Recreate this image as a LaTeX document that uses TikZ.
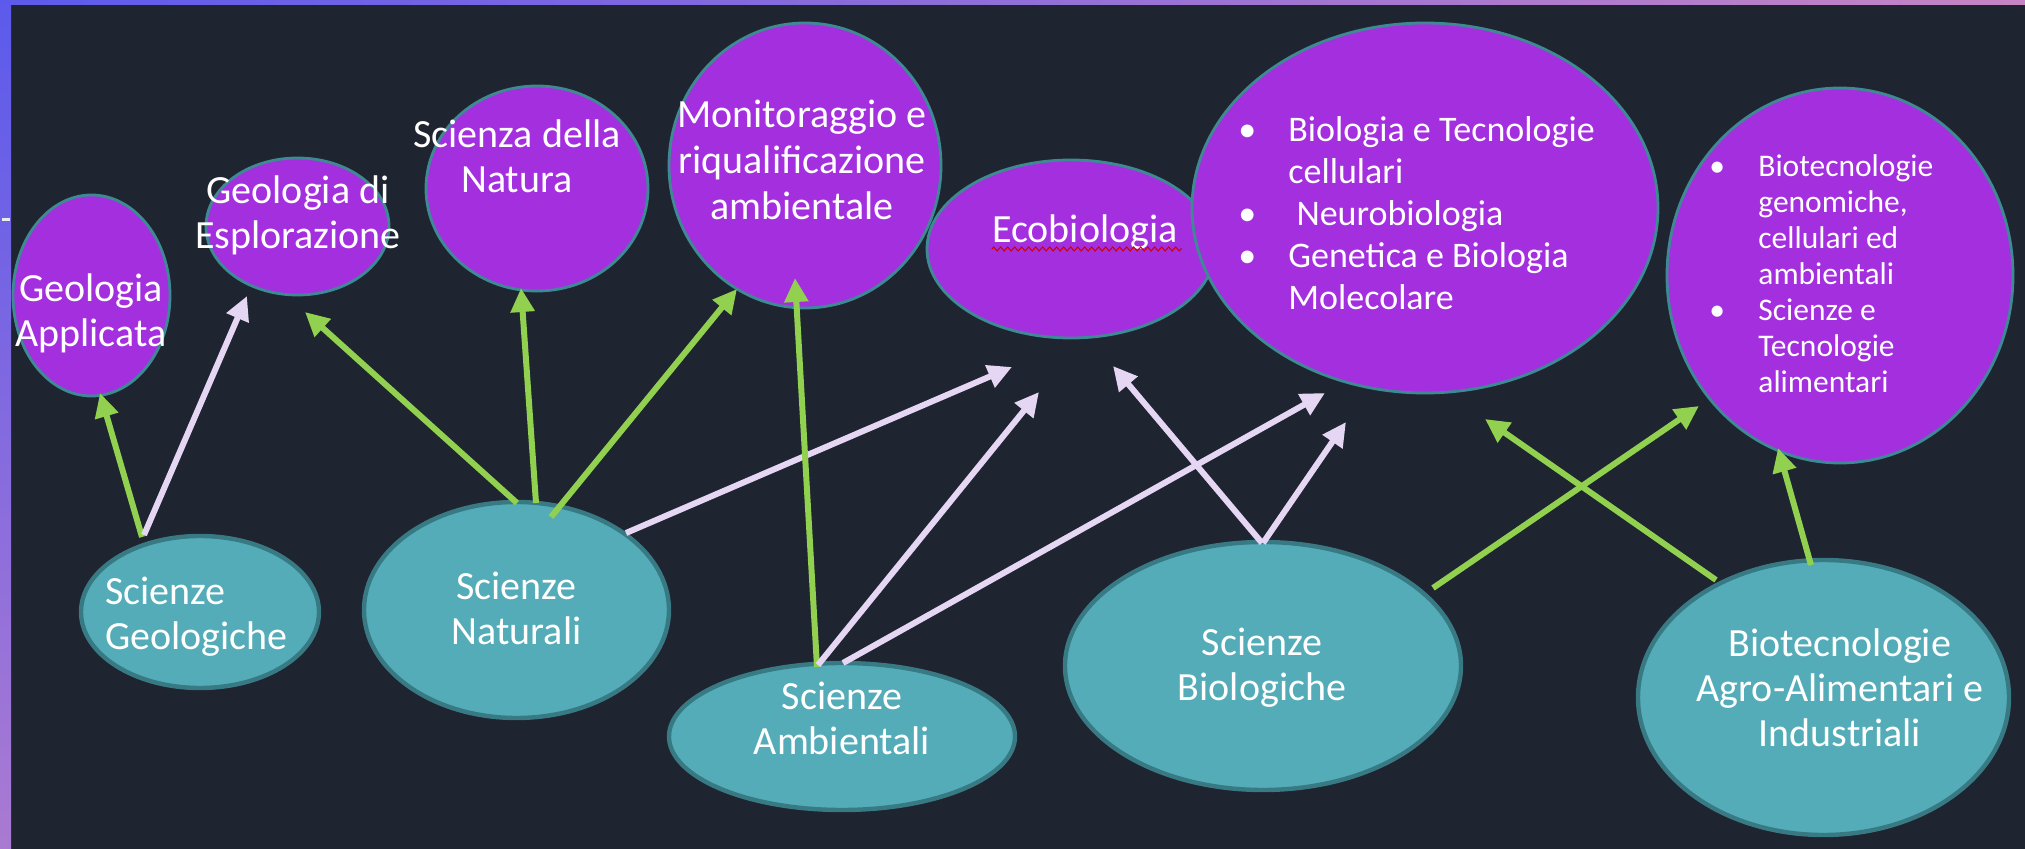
\documentclass[tikz,border=0pt]{standalone}
\usepackage{fontspec}
\setmainfont{Carlito}
\usetikzlibrary{shapes.geometric,arrows.meta,decorations.pathmorphing}
\definecolor{bgc}{RGB}{30,36,48}
\definecolor{pfill}{RGB}{164,47,223}
\definecolor{pborder}{RGB}{62,138,148}
\definecolor{tfill}{RGB}{85,172,185}
\definecolor{tborder}{RGB}{56,122,132}
\definecolor{agreen}{RGB}{146,208,80}
\definecolor{alav}{RGB}{229,214,244}
\definecolor{frameA}{RGB}{92,90,236}
\definecolor{frameB}{RGB}{170,122,210}
\definecolor{frameC}{RGB}{198,132,196}
\newcommand{\mlc}[1]{\begin{tabular}[t]{@{}c@{}}#1\end{tabular}}
\newcommand{\mll}[1]{\begin{tabular}[t]{@{}l@{}}#1\end{tabular}}
\newcommand{\bulbox}[1]{\makebox[#1][l]{\textbullet}}
\begin{document}
\begin{tikzpicture}[x=0.5pt,y=-0.5pt,
  pell/.style={ellipse,draw=pborder,fill=pfill,line width=1.4pt,inner sep=0pt},
  tell/.style={ellipse,draw=tborder,fill=tfill,line width=2.2pt,inner sep=0pt},
  lbl/.style={text=white,inner sep=0pt,anchor=base,font=\fontsize{20pt}{22.5pt}\selectfont},
  conn/.style={line width=3pt,-{Triangle[length=12pt,width=11.5pt]}},
  gline/.style={conn,draw=agreen},
  lline/.style={conn,draw=alav}]
\useasboundingbox (0,0) rectangle (2025,849);
\fill[bgc] (0,0) rectangle (2025,849);
\shade[left color=frameA,right color=frameC] (0,0) rectangle (2025,5);
\shade[top color=frameA,bottom color=frameB] (0,0) rectangle (11,849);
\draw[white!85!gray,line width=1.2pt] (2,219.5) -- (10,219.5);

% top (purple) ellipses
\node[pell,minimum width=78.5pt,minimum height=100.5pt] (gapp) at (91.5,295.5) {};
\node[pell,minimum width=91.5pt,minimum height=68.5pt] (gexp) at (297.5,226.5) {};
\node[pell,minimum width=111pt,minimum height=102.5pt] (snat) at (537,188.5) {};
\node[pell,minimum width=144pt,minimum height=89pt] (eco) at (1071,249) {};
\node[pell,minimum width=136pt,minimum height=142.5pt] (mon) at (805,165.5) {};
\node[pell,minimum width=233pt,minimum height=185pt] (bio) at (1425,208) {};
\node[pell,minimum width=173pt,minimum height=187.5pt] (btec) at (1840,275.5) {};

% bottom (teal) ellipses
\node[tell,minimum width=119pt,minimum height=76pt] (sgeo) at (200,612) {};
\node[tell,minimum width=152.5pt,minimum height=108pt] (snatu) at (516.5,610) {};
\node[tell,minimum width=173pt,minimum height=73.5pt] (samb) at (842,736.5) {};
\node[tell,minimum width=198pt,minimum height=124pt] (sbio) at (1263,666) {};
\node[tell,minimum width=185.5pt,minimum height=137.5pt] (sagro) at (1823.5,697.5) {};

% connectors
\draw[gline] ([shift={(-58,-75)}]sgeo.center) -- ([shift={(8.5,97.5)}]gapp.center);
\draw[lline] ([shift={(-56,-77)}]sgeo.center) -- ([shift={(-50.5,69.5)}]gexp.center);
\draw[gline] ([shift={(0.5,-107)}]snatu.center) -- ([shift={(7.5,85.5)}]gexp.center);
\draw[gline] ([shift={(19.5,-107)}]snatu.center) -- ([shift={(-16,99.5)}]snat.center);
\draw[gline] ([shift={(34.5,-93)}]snatu.center) -- ([shift={(-68,123.5)}]mon.center);
\draw[lline] ([shift={(109.5,-77)}]snatu.center) -- ([shift={(-59,118)}]eco.center);
\draw[gline] ([shift={(-25,-69.5)}]samb.center) -- ([shift={(-10,112.5)}]mon.center);
\draw[lline] ([shift={(-24,-71.5)}]samb.center) -- ([shift={(-32,143)}]eco.center);
\draw[lline] ([shift={(1,-73.5)}]samb.center) -- ([shift={(-100,185)}]bio.center);
\draw[lline] ([shift={(-1,-123)}]sbio.center) -- ([shift={(42,117)}]eco.center);
\draw[lline] ([shift={(0,-123)}]sbio.center) -- ([shift={(-79,214)}]bio.center);
\draw[gline] ([shift={(-107.5,-117.5)}]sagro.center) -- ([shift={(60,211)}]bio.center);
\draw[gline] ([shift={(170,-78)}]sbio.center) -- ([shift={(-141,130.5)}]btec.center);
\draw[gline] ([shift={(-12.5,-132.5)}]sagro.center) -- ([shift={(-62,172.5)}]btec.center);

% texts
\node[lbl] (tgapp) at (91,302) {\mlc{Geologia\\Applicata}};
\node[lbl] (tgexp) at (298,204) {\mlc{Geologia di\\Esplorazione}};
\node[lbl] (tsnat) at (517,148) {\mlc{Scienza della\\Natura}};
\node[lbl,font=\fontsize{20pt}{23pt}\selectfont] (tmon) at (802,128) {\mlc{Monitoraggio e\\riqualificazione\\ambientale}};
\node[lbl] (teco) at (1085,243) {Ecobiologia};
\draw[decorate,decoration={zigzag,segment length=3.5pt,amplitude=1pt},draw=red!80!black,line width=0.5pt]
  ([shift={(0,6)}]teco.base west) -- ([shift={(4,6)}]teco.base east);
\node[lbl,anchor=base west,font=\fontsize{18pt}{21pt}\selectfont] (tbio) at (1238,142)
  {\begin{tabular}[t]{@{}l@{}l@{}}
   \bulbox{25pt} & Biologia e Tecnologie\\
    & cellulari\\
   \bulbox{25pt} & \ Neurobiologia\\
   \bulbox{25pt} & Genetica e Biologia\\
    & Molecolare
   \end{tabular}};
\node[lbl,anchor=base west,font=\fontsize{15.75pt}{18pt}\selectfont] (tbtec) at (1709,177)
  {\begin{tabular}[t]{@{}l@{}l@{}}
   \bulbox{24.5pt} & Biotecnologie\\
    & genomiche,\\
    & cellulari ed\\
    & ambientali\\
   \bulbox{24.5pt} & Scienze e\\
    & Tecnologie\\
    & alimentari
   \end{tabular}};
\node[lbl,anchor=base west] (tsgeo) at (105,605) {\mll{Scienze\\Geologiche}};
\node[lbl] (tsnatu) at (516.5,600) {\mlc{Scienze\\Naturali}};
\node[lbl] (tsamb) at (842,710) {\mlc{Scienze\\Ambientali}};
\node[lbl] (tsbio) at (1262,656) {\mlc{Scienze\\Biologiche}};
\node[lbl] (tsagro) at (1840,657) {\mlc{Biotecnologie\\Agro-Alimentari e\\Industriali}};
\end{tikzpicture}
\end{document}
